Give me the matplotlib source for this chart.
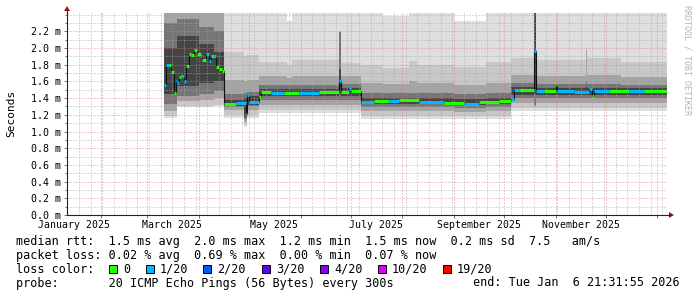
import pandas as pd
import matplotlib
matplotlib.use("Agg")
import matplotlib.pyplot as plt
import matplotlib.dates as mdates
from matplotlib.patches import Rectangle, Polygon
from matplotlib.lines import Line2D

W, H = 697, 297
MONO = "DejaVu Sans Mono"

start = pd.Timestamp("2025-01-11 21:31:55")
end = pd.Timestamp("2026-01-06 21:31:55")

# median rtt (ms) per step, loss class per step (0 -> 0/20, 1 -> 1/20)
med_dates = ["2025-03-11", "2025-03-12", "2025-03-14", "2025-03-15", "2025-03-17",
             "2025-03-18", "2025-03-19", "2025-03-20", "2025-03-21", "2025-03-23",
             "2025-03-24", "2025-03-26", "2025-03-27", "2025-03-29", "2025-03-31",
             "2025-04-02", "2025-04-03", "2025-04-05", "2025-04-07", "2025-04-08",
             "2025-04-10", "2025-04-11", "2025-04-13", "2025-04-15", "2025-04-16",
             "2025-04-23", "2025-04-29", "2025-04-30", "2025-05-01", "2025-05-07",
             "2025-05-08", "2025-05-14", "2025-05-22", "2025-05-31", "2025-06-12",
             "2025-06-24", "2025-06-25", "2025-06-30", "2025-07-01", "2025-07-07",
             "2025-07-15", "2025-07-24", "2025-07-30", "2025-08-11", "2025-08-26",
             "2025-09-07", "2025-09-16", "2025-09-28", "2025-10-05", "2025-10-07",
             "2025-10-10", "2025-10-19", "2025-10-20", "2025-10-25", "2025-11-01",
             "2025-11-02", "2025-11-12", "2025-11-21", "2025-11-23", "2025-11-24",
             "2025-12-03", "2025-12-15", "2025-12-24"]
med_ms = [1.555, 1.80, 1.80, 1.71, 1.46,
          1.60, 1.58, 1.65, 1.67, 1.61,
          1.79, 1.93, 1.92, 1.98, 1.93,
          1.90, 1.86, 1.93, 1.85, 1.91,
          1.90, 1.77, 1.75, 1.73, 1.325,
          1.345, 1.21, 1.435, 1.35, 1.415,
          1.475, 1.465, 1.46, 1.465, 1.475,
          1.61, 1.475, 1.515, 1.48, 1.355,
          1.365, 1.37, 1.375, 1.355, 1.34,
          1.335, 1.355, 1.365, 1.395, 1.495,
          1.50, 1.97, 1.49, 1.485, 1.555,
          1.48, 1.475, 1.51, 1.42, 1.49,
          1.49, 1.48, 1.49]
med_loss = [1, 1, 0, 0, 0,
            1, 1, 0, 1, 1,
            0, 0, 0, 0, 0,
            0, 0, 1, 1, 0,
            1, 0, 0, 0, 0,
            1, 0, 1, 1, 0,
            0, 1, 0, 1, 0,
            1, 0, 1, 0, 1,
            0, 1, 0, 1, 0,
            1, 0, 0, 1, 1,
            0, 1, 1, 0, 0,
            1, 1, 1, 0, 1,
            0, 1, 0]

# smoke bands (ms), outermost (light) to innermost (dark)
smoke_dates = ["2025-03-11", "2025-03-19", "2025-04-01", "2025-04-10", "2025-04-16",
               "2025-04-28", "2025-04-30", "2025-05-07", "2025-05-24", "2025-05-27",
               "2025-06-24", "2025-06-25", "2025-07-07", "2025-07-20", "2025-08-05",
               "2025-08-10", "2025-09-01", "2025-09-20", "2025-10-05", "2025-10-19",
               "2025-10-20", "2025-11-19", "2025-11-20", "2025-12-10"]
l1_lo = [1.16, 1.29, 1.29, 1.30, 1.16, 1.05, 1.16, 1.22, 1.22, 1.22, 1.22, 1.22,
         1.15, 1.15, 1.15, 1.15, 1.15, 1.15, 1.24, 1.24, 1.24, 1.24, 1.24, 1.24]
l1_hi = [2.45, 2.45, 2.45, 2.45, 2.45, 2.45, 2.45, 2.45, 2.32, 2.45, 2.45, 2.45,
         2.45, 2.38, 2.45, 2.45, 2.33, 2.45, 2.45, 2.45, 2.45, 2.45, 2.45, 2.45]
l2_lo = [1.19, 1.31, 1.31, 1.32, 1.20, 1.08, 1.20, 1.26, 1.26, 1.26, 1.26, 1.26,
         1.19, 1.19, 1.19, 1.19, 1.19, 1.19, 1.28, 1.28, 1.28, 1.28, 1.28, 1.28]
l2_hi = [2.45, 2.45, 2.45, 2.45, 1.95, 1.90, 1.92, 1.83, 1.80, 1.86, 2.20, 1.82,
         1.80, 1.76, 1.84, 1.80, 1.77, 1.83, 1.88, 2.45, 1.86, 2.00, 1.88, 1.83]
l3_lo = [1.24, 1.36, 1.38, 1.40, 1.26, 1.12, 1.26, 1.32, 1.32, 1.32, 1.32, 1.32,
         1.24, 1.24, 1.24, 1.24, 1.23, 1.24, 1.34, 1.30, 1.34, 1.34, 1.34, 1.34]
l3_hi = [2.45, 2.45, 2.45, 2.45, 1.62, 1.60, 1.62, 1.66, 1.64, 1.66, 2.19, 1.66,
         1.58, 1.57, 1.60, 1.58, 1.56, 1.58, 1.68, 2.45, 1.67, 1.98, 1.68, 1.65]
l4_lo = [1.33, 1.42, 1.45, 1.48, 1.29, 1.15, 1.30, 1.38, 1.38, 1.38, 1.38, 1.38,
         1.29, 1.29, 1.29, 1.29, 1.28, 1.29, 1.40, 1.32, 1.40, 1.40, 1.40, 1.40]
l4_hi = [2.30, 2.35, 2.25, 2.20, 1.45, 1.46, 1.47, 1.56, 1.56, 1.56, 2.19, 1.57,
         1.46, 1.46, 1.46, 1.46, 1.45, 1.46, 1.58, 2.45, 1.57, 1.60, 1.57, 1.56]
l5_lo = [1.45, 1.55, 1.58, 1.60, 1.31, 1.18, 1.32, 1.43, 1.43, 1.43, 1.45, 1.43,
         1.33, 1.33, 1.33, 1.33, 1.32, 1.33, 1.44, 1.45, 1.44, 1.44, 1.44, 1.44]
l5_hi = [2.00, 2.15, 2.05, 1.95, 1.38, 1.40, 1.42, 1.51, 1.51, 1.51, 1.75, 1.52,
         1.40, 1.40, 1.40, 1.40, 1.39, 1.40, 1.53, 2.45, 1.52, 1.53, 1.52, 1.52]

smoke_colors = ["#dedede", "#c8c8c8", "#a4a4a4", "#767676", "#444444"]

loss_labels = ["0", "1/20", "2/20", "3/20", "4/20", "10/20", "19/20"]
loss_palette = ["#26ff00", "#00b8ff", "#0059ff", "#5e00ff", "#7e00ff", "#dd00ff", "#ff0000"]

legend_rows = [
    "median rtt:  1.5 ms avg  2.0 ms max  1.2 ms min  1.5 ms now  0.2 ms sd  7.5   am/s",
    "packet loss: 0.02 % avg  0.69 % max  0.00 % min  0.07 % now",
    "loss color:",
    "probe:       20 ICMP Echo Pings (56 Bytes) every 300s",
]
end_label = "end: Tue Jan  6 21:31:55 2026"


def fx(px):
    return px / W


def fy(py):
    return 1 - py / H


fig = plt.figure(figsize=(W / 100, H / 100), dpi=100)
fig.patch.set_facecolor("white")
ax = fig.add_axes([fx(67), fy(215), 600 / W, 202 / H])
ax.set_facecolor("white")

#%% smoke

sx = list(pd.to_datetime(smoke_dates)) + [end]
bands = [(l1_lo, l1_hi), (l2_lo, l2_hi), (l3_lo, l3_hi), (l4_lo, l4_hi), (l5_lo, l5_hi)]
for (lo, hi), col in zip(bands, smoke_colors):
    ax.fill_between(sx, list(lo) + [lo[-1]], list(hi) + [hi[-1]],
                    step="post", color=col, lw=0, zorder=1)

#%% median

mx = list(pd.to_datetime(med_dates)) + [end]
my = med_ms + [med_ms[-1]]
ax.step(mx, my, where="post", color="#111111", lw=0.8, zorder=3)
for i in range(len(med_ms)):
    ax.hlines(med_ms[i], mx[i], mx[i + 1], color=loss_palette[med_loss[i]],
              lw=2.2, zorder=4)

#%% axes and grid

ax.set_xlim(start, end)
ax.set_ylim(0, 2.42)
ax.xaxis.set_major_locator(mdates.MonthLocator())
ax.xaxis.set_minor_locator(mdates.WeekdayLocator(byweekday=mdates.SU))
ax.xaxis.set_major_formatter(plt.NullFormatter())
ax.set_yticks([i * 0.2 for i in range(12)])
ax.set_yticks([i * 0.1 for i in range(25)], minor=True)
ax.set_yticklabels([f"{i * 0.2:.1f} m" for i in range(12)],
                   family=MONO, fontsize=7.2)
ax.set_axisbelow(False)
ax.grid(which="minor", color="#a8a8a8", ls=(0, (1, 2)), lw=0.72, alpha=0.85)
ax.grid(which="major", color="#e07878", ls=(0, (1, 2)), lw=0.72, alpha=0.8)
ax.tick_params(which="both", length=2.2, width=0.7, color="#777777", pad=2)
ax.tick_params(axis="y", which="minor", length=1.5)
ax.tick_params(axis="x", which="minor", length=0)
for s in ["top", "right"]:
    ax.spines[s].set_visible(False)
for s in ["bottom", "left"]:
    ax.spines[s].set_color("#222222")
    ax.spines[s].set_linewidth(0.8)
    ax.spines[s].set_zorder(5)

# month labels, centered half a month after each tick
for m in pd.date_range("2025-01-01", "2025-11-01", freq="2MS"):
    ax.annotate(m.strftime("%B %Y"), xy=(m + pd.Timedelta(days=15), 0),
                xytext=(0, -7), textcoords="offset points", ha="center",
                va="center", family=MONO, fontsize=7.1, annotation_clip=False)

# axis arrows
fig.add_artist(Line2D([fx(667), fx(670)], [fy(215), fy(215)], color="#222222", lw=0.8))
fig.add_artist(Line2D([fx(67), fx(67)], [fy(13), fy(10)], color="#222222", lw=0.8))
fig.add_artist(Polygon([(fx(669), fy(212)), (fx(669), fy(218)), (fx(674), fy(215))],
                       closed=True, color="#8b1a1a", lw=0))
fig.add_artist(Polygon([(fx(64), fy(11)), (fx(70), fy(11)), (fx(67), fy(6))],
                       closed=True, color="#8b1a1a", lw=0))

fig.text(fx(11), fy(113), "Seconds", rotation=90, ha="center", va="center",
         family=MONO, fontsize=8)
fig.text(fx(687), fy(60), "RRDTOOL / TOBI OETIKER", rotation=270, ha="center",
         va="center", family=MONO, fontsize=6, color="#b4b4b4")

#%% legend

row_y = [241.7, 255.5, 269.3, 283.0]
for txt, yy in zip(legend_rows, row_y):
    fig.text(fx(16), fy(yy), txt, ha="left", va="center", family=MONO, fontsize=8.5)
fig.text(fx(680), fy(row_y[3]), end_label, ha="right", va="center",
         family=MONO, fontsize=8.5)

box_x = [109, 146, 203, 262, 320, 378, 443]
for bx, lab, col in zip(box_x, loss_labels, loss_palette):
    fig.add_artist(Rectangle((fx(bx), fy(row_y[2] + 4)), 8 / W, 8 / H,
                             facecolor=col, edgecolor="black", lw=0.7))
    fig.text(fx(bx + 14), fy(row_y[2]), lab, ha="left", va="center",
             family=MONO, fontsize=8.5)

fig.savefig("out.png", dpi=100)
